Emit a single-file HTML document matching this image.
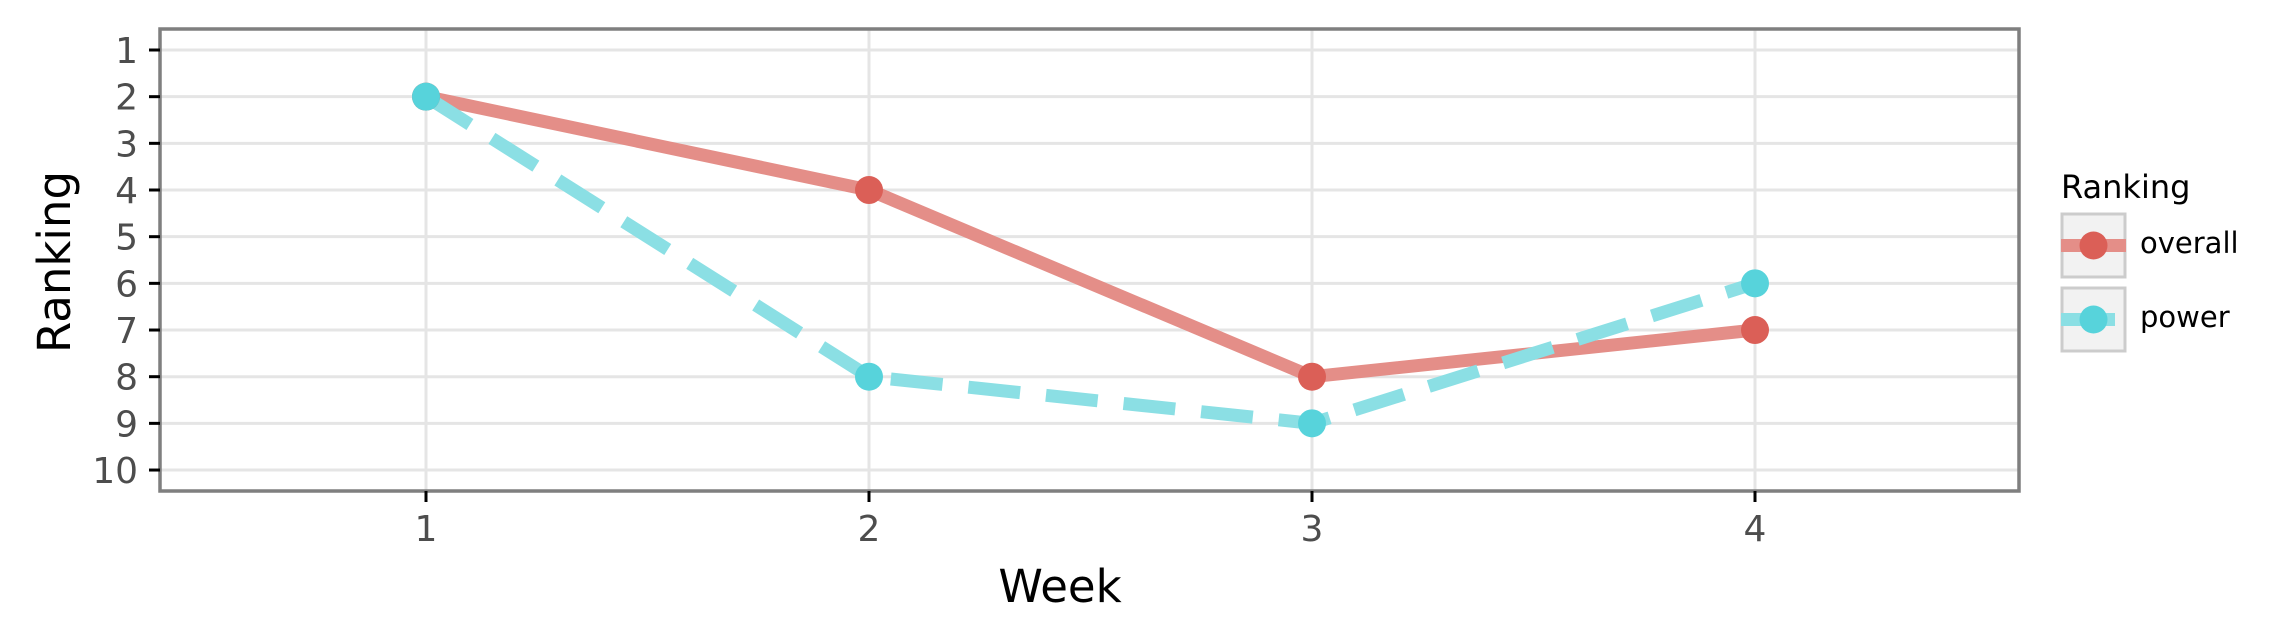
<!DOCTYPE html>
<html><head><meta charset="utf-8"><style>
html,body{margin:0;padding:0;background:#fff;}
svg{display:block;font-family:"DejaVu Sans","Liberation Sans",sans-serif;}
</style></head><body>
<svg id="chart" width="2276" height="641" viewBox="0 0 2276 641">
<g id="grid"></g>
<g id="series"></g>
<rect x="160" y="29" width="1859" height="462" fill="none" stroke="#7f7f7f" stroke-width="3.5"/>
<g id="axes"></g>
<text x="1060" y="602" font-size="45" text-anchor="middle" fill="#000">Week</text>
<text transform="translate(70,262) rotate(-90)" font-size="45" text-anchor="middle" fill="#000">Ranking</text>
<g>
<text x="2061" y="198" font-size="32" fill="#000">Ranking</text>
<g>
<rect x="2062" y="214" width="63" height="63" fill="#f2f2f2" stroke="#cccccc" stroke-width="3"/>
<line x1="2061" y1="245.5" x2="2126" y2="245.5" stroke="#e48e88" stroke-width="13"/>
<circle cx="2093.5" cy="245.5" r="14" fill="#db5f57"/>
<text x="2140" y="253" font-size="29" fill="#000">overall</text>
</g>
<g>
<rect x="2062" y="288" width="63" height="63" fill="#f2f2f2" stroke="#cccccc" stroke-width="3"/>
<line x1="2061" y1="319.5" x2="2115" y2="319.5" stroke="#8bdfe4" stroke-width="13"/>
<circle cx="2093.5" cy="319.5" r="14" fill="#57d3db"/>
<text x="2140" y="327" font-size="29" fill="#000">power</text>
</g>
</g>
</svg>
<script>
const weeks = [1, 2, 3, 4];
const overall = [2, 4, 8, 7];
const power = [2, 8, 9, 6];
const yTicks = [1,2,3,4,5,6,7,8,9,10];
const xTicks = [1,2,3,4];

const NS = "http://www.w3.org/2000/svg";
function xs(w){ return 426 + (w - 1) * 443; }
function ys(r){ return 50 + (r - 1) * 46.67; }
function mk(tag, attrs, parent){
  const e = document.createElementNS(NS, tag);
  for (const k in attrs) e.setAttribute(k, attrs[k]);
  parent.appendChild(e);
  return e;
}
const grid = document.getElementById('grid');
const axes = document.getElementById('axes');
const series = document.getElementById('series');

yTicks.forEach(t => {
  const g = mk('line', {x1:160, x2:2019, y1:ys(t), y2:ys(t), stroke:'#e5e5e5', 'stroke-width':3}, grid);
  
  
  const tk = mk('line', {x1:149, x2:160, y1:ys(t), y2:ys(t), stroke:'#000', 'stroke-width':3}, axes);
  
  
  const lb = mk('text', {x:138, y:ys(t)+13, 'font-size':36, 'text-anchor':'end', fill:'#4d4d4d'}, axes);
  lb.textContent = t;
  
  
});
xTicks.forEach(t => {
  const g = mk('line', {x1:xs(t), x2:xs(t), y1:29, y2:491, stroke:'#e5e5e5', 'stroke-width':3}, grid);
  
  
  const tk = mk('line', {x1:xs(t), x2:xs(t), y1:491, y2:502, stroke:'#000', 'stroke-width':3}, axes);
  
  
  const lb = mk('text', {x:xs(t), y:541, 'font-size':36, 'text-anchor':'middle', fill:'#4d4d4d'}, axes);
  lb.textContent = t;
  
  
});

function pts(vals){ return weeks.map((w,i)=>xs(w)+','+ys(vals[i])).join(' '); }
const l1 = mk('polyline', {points:pts(overall), fill:'none', stroke:'#e48e88', 'stroke-width':13, 'stroke-linejoin':'round'}, series);


const l2 = mk('polyline', {points:pts(power), fill:'none', stroke:'#8bdfe4', 'stroke-width':13, 'stroke-dasharray':'52 26'}, series);


weeks.forEach((w,i) => {
  const c = mk('circle', {cx:xs(w), cy:ys(overall[i]), r:14, fill:'#db5f57'}, series);
  
  
});
weeks.forEach((w,i) => {
  const c = mk('circle', {cx:xs(w), cy:ys(power[i]), r:14, fill:'#57d3db'}, series);
  
  
});
</script>
</body></html>
